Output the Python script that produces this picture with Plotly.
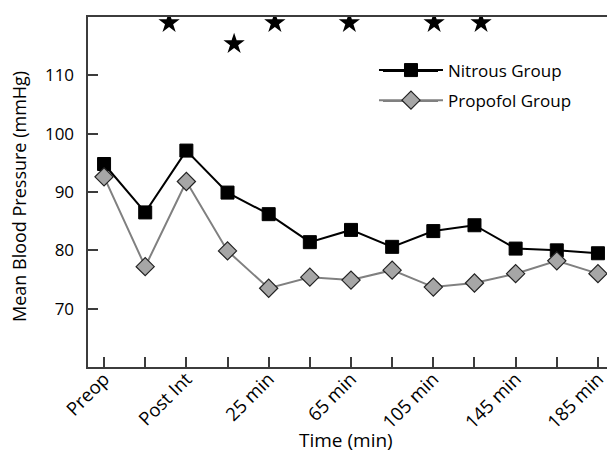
import plotly.graph_objects as go

tick_labels = ["Preop", "", "Post Int", "", "25 min", "", "65 min", "", "105 min", "", "145 min", "", "185 min"]
x_index = list(range(13))
nitrous = [94.8, 86.5, 97.1, 89.9, 86.2, 81.4, 83.5, 80.6, 83.3, 84.3, 80.3, 80.0, 79.5]
propofol = [92.6, 77.2, 91.8, 79.9, 73.5, 75.4, 74.9, 76.6, 73.7, 74.4, 76.0, 78.2, 76.0]
star_x = [1.58, 3.16, 4.15, 5.96, 8.02, 9.16]
star_y = [119.0, 115.4, 119.0, 119.0, 119.0, 119.0]
y_ticks = [60, 70, 80, 90, 100, 110, 120]
y_ticktext = ["", "70", "80", "90", "100", "110", ""]
x_title = "Time (min)"
y_title = "Mean Blood Pressure (mmHg)"

FONT = "Open Sans, Noto Sans, sans-serif"
AX = "#3c3c3c"
PAD = "\u2002\u200b"  # en space kept by a zero-width char: gap between y labels and axis

fig = go.Figure()
fig.add_trace(go.Scatter(
    x=x_index, y=nitrous, mode="lines+markers", name="Nitrous Group",
    legendgroup="n",
    line=dict(color="black", width=2),
    marker=dict(symbol="square", size=13, color="black", line=dict(color="black", width=1)),
))
fig.add_trace(go.Scatter(
    x=x_index, y=propofol, mode="lines+markers", name="Propofol Group",
    legendgroup="p",
    line=dict(color="#808080", width=2),
    marker=dict(symbol="diamond", size=14, color="#a6a6a6", line=dict(color="#222222", width=1.2)),
))
fig.add_trace(go.Scatter(
    x=star_x, y=star_y, mode="markers", showlegend=False,
    marker=dict(symbol="star", size=16, color="black"),
    hoverinfo="skip",
))

# extend legend sample lines to the reference's longer strokes
fig.add_shape(type="line", xref="paper", yref="paper", x0=0.5608, x1=0.6654, y0=0.8457, y1=0.8457,
              line=dict(color="black", width=2))
fig.add_shape(type="line", xref="paper", yref="paper", x0=0.5608, x1=0.6654, y0=0.76, y1=0.76,
              line=dict(color="#808080", width=2))

fig.add_annotation(text=x_title, xref="paper", yref="paper", x=0.49, y=0, yshift=-73,
                   showarrow=False, xanchor="center", yanchor="middle", font=dict(size=19))
fig.add_annotation(text=y_title, xref="paper", yref="paper", x=0, y=0.5, xshift=-69, yshift=-5,
                   textangle=-90, showarrow=False, xanchor="center", yanchor="middle",
                   font=dict(size=18))

fig.update_layout(
    width=607, height=450,
    margin=dict(l=80, r=1, t=9, b=91),
    plot_bgcolor="white", paper_bgcolor="white",
    font=dict(family=FONT, size=17, color="black"),
    legend=dict(x=0.5437, y=0.8985, xanchor="left", yanchor="top", traceorder="grouped",
                bgcolor="rgba(0,0,0,0)", font=dict(size=17), tracegroupgap=5, itemwidth=64),
    xaxis=dict(
        range=[-0.39, 12.39], tickmode="array", tickvals=x_index, ticktext=tick_labels,
        tickangle=-45, ticks="inside", ticklen=10, tickcolor=AX, tickwidth=1.5,
        showline=True, linecolor=AX, linewidth=2, mirror=True,
        showgrid=False, zeroline=False, automargin=False, ticklabelstandoff=-8,
        tickfont=dict(size=18.5),
    ),
    yaxis=dict(
        range=[60, 120], tickmode="array", tickvals=y_ticks,
        ticktext=[t + PAD if t else t for t in y_ticktext],
        ticks="inside", ticklen=10, tickcolor=AX, tickwidth=1.5,
        showline=True, linecolor=AX, linewidth=2, mirror=True,
        showgrid=False, zeroline=False, automargin=False,
        tickfont=dict(size=17),
    ),
)

fig.write_html("out.html")
